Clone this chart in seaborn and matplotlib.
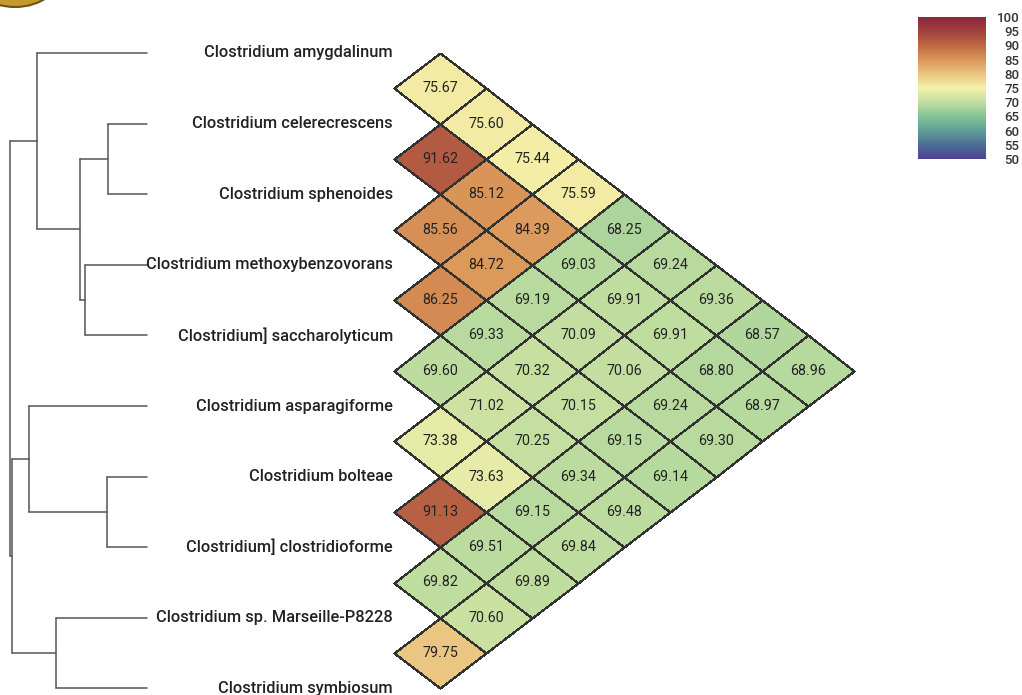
import numpy as np
import pandas as pd
import matplotlib
matplotlib.use("Agg")
import matplotlib.pyplot as plt
import seaborn as sns
from matplotlib.colors import LinearSegmentedColormap
from matplotlib.transforms import Affine2D
from matplotlib.patches import Ellipse

# species, top to bottom
species = [
    "Clostridium amygdalinum",
    "Clostridium celerecrescens",
    "Clostridium sphenoides",
    "Clostridium methoxybenzovorans",
    "Clostridium] saccharolyticum",
    "Clostridium asparagiforme",
    "Clostridium bolteae",
    "Clostridium] clostridioforme",
    "Clostridium sp. Marseille-P8228",
    "Clostridium symbiosum",
]

# pairwise identity, row i vs species i+1 .. end
ani_rows = [
    [75.67, 75.60, 75.44, 75.59, 68.25, 69.24, 69.36, 68.57, 68.96],
    [91.62, 85.12, 84.39, 69.03, 69.91, 69.91, 68.80, 68.97],
    [85.56, 84.72, 69.19, 70.09, 70.06, 69.24, 69.30],
    [86.25, 69.33, 70.32, 70.15, 69.15, 69.14],
    [69.60, 71.02, 70.25, 69.34, 69.48],
    [73.38, 73.63, 69.15, 69.84],
    [91.13, 69.51, 69.89],
    [69.82, 70.60],
    [79.75],
]

# tree merges (child a, child b, distance); leaves 0..9, new nodes from 10
merges = [
    (1, 2, 0.285),
    (6, 7, 0.29),
    (3, 4, 0.45),
    (10, 12, 0.49),
    (8, 9, 0.665),
    (0, 13, 0.80),
    (5, 11, 0.86),
    (16, 14, 0.985),
    (15, 17, 1.0),
]

cbar_ticks = [100, 95, 90, 85, 80, 75, 70, 65, 60, 55, 50]

# colour scale (50 -> 100)
cmap = LinearSegmentedColormap.from_list("ani", [
    "#4e4294", "#4c6e96", "#5fa096", "#82c396", "#c3dea0",
    "#f4f1aa", "#eac480", "#da9658", "#be6944", "#a0413e", "#8a283e",
])
cmap.set_bad((1, 1, 1, 0))

n = len(species)
mat = np.full((n - 1, n - 1), np.nan)
for i, row in enumerate(ani_rows):
    for k, v in enumerate(row):
        mat[i, i + k] = v
df = pd.DataFrame(mat)
mask = np.isnan(mat)

sns.set_style("white")
plt.rcParams["font.family"] = ["Roboto", "DejaVu Sans"]

fig = plt.figure(figsize=(10.22, 6.95), dpi=100)
ax = fig.add_axes([0, 0, 1, 1])
cax = fig.add_axes([918 / 1022, 1 - 159 / 695, 68 / 1022, 142 / 695])

sns.heatmap(df, mask=mask, ax=ax, cmap=cmap, vmin=50, vmax=100,
            annot=True, fmt=".2f", annot_kws={"size": 10.3, "color": "#222222"},
            linewidths=0.8, linecolor="#333333", cbar_ax=cax,
            cbar_kws={"ticks": cbar_ticks})

# rotate the square grid into diamonds
y0, half_h, half_w, x0 = 53.0, 35.3, 46.0, 440.0
rot = Affine2D(np.array([[half_w, -half_w, x0],
                         [half_h, half_h, y0],
                         [0, 0, 1]]))
mesh = ax.collections[0]
mesh.set_transform(rot + ax.transData)
# no outline on the hidden half
hidden = np.ma.getmaskarray(mesh.get_array()).ravel()
edges = np.tile(matplotlib.colors.to_rgba("#333333"), (hidden.size, 1))
edges[hidden] = (0, 0, 0, 0)
mesh.set_edgecolors(edges)
for t in ax.texts:
    t.set_transform(rot + ax.transData)

ax.set_xlim(0, 1022)
ax.set_ylim(695, 0)
ax.axis("off")

# species labels
leaf_x = 147
label_y = [y0 + 2 * half_h * k for k in range(n)]
for name, y in zip(species, label_y):
    ax.text(393, y, name, ha="right", va="center", fontsize=11.8,
            fontweight="medium", color="#222222")

# dendrogram
scale = 137.0
node_x = {k: leaf_x for k in range(n)}
node_y = {k: label_y[k] for k in range(n)}
for m, (a, b, h) in enumerate(merges):
    nid = n + m
    x = leaf_x - h * scale
    ax.plot([x, x], [node_y[a], node_y[b]], color="#555555", lw=1.1)
    for c in (a, b):
        ax.plot([x, node_x[c]], [node_y[c], node_y[c]], color="#555555", lw=1.1)
    node_x[nid] = x
    node_y[nid] = (node_y[a] + node_y[b]) / 2

# cropped logo in the corner
ax.add_patch(Ellipse((15, -30), 96, 74, facecolor="#c49a2c",
                     edgecolor="#6b5416", lw=1.5, clip_on=True))

cax.tick_params(length=0, pad=24, labelsize=9.5, labelcolor="#333333")
for lab in cax.get_yticklabels():
    lab.set_horizontalalignment("right")
    lab.set_fontweight("medium")
cbar = mesh.colorbar
if cbar is not None:
    cbar.outline.set_edgecolor("#d8d0e0")

fig.savefig("out.png", dpi=100)
